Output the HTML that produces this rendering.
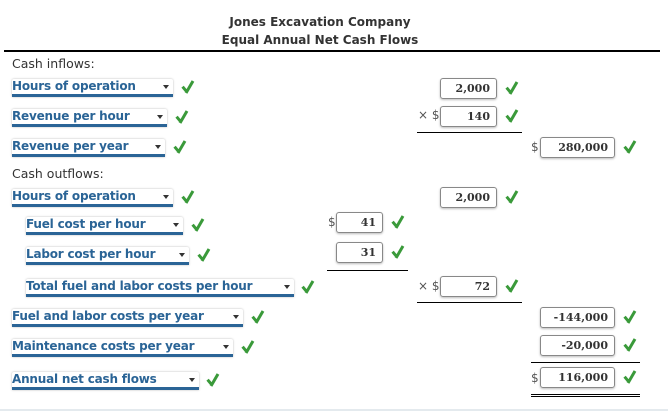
<!DOCTYPE html>
<html><head><style>
body{margin:0;width:668px;height:411px;background:#fff;position:relative;font-family:"DejaVu Sans","Liberation Sans",sans-serif;overflow:hidden}
.a{position:absolute}
.t{font-weight:bold;font-size:12px;color:#333;text-align:center;width:668px;left:-14px}
.dd{position:absolute;height:15px;border-bottom:3px solid #2a6496;color:#2a6496;font-weight:bold;font-size:12px;line-height:15px;box-shadow:0 0 2px #bbb;border-radius:2px 2px 0 0;letter-spacing:-0.2px}
.dd:after{content:"";position:absolute;right:4px;top:6px;border-left:3.5px solid transparent;border-right:3.5px solid transparent;border-top:4px solid #333}
.ck{position:absolute;width:12px;height:13px}
.ck:before{content:"";position:absolute;left:1px;top:6px;width:3px;height:6px;background:#3a9a3a;transform:rotate(-40deg)}
.ck:after{content:"";position:absolute;left:6px;top:0;width:3px;height:14px;background:#3a9a3a;transform:rotate(30deg)}
.bx{position:absolute;height:19px;border:1px solid #888;border-radius:3px;box-shadow:0 1px 2px #bbb;text-align:right;padding-right:6px;box-sizing:border-box;font-family:"DejaVu Serif",serif;font-weight:bold;font-size:11px;line-height:19px;color:#333}
.lb{position:absolute;font-size:12.5px;color:#333}
.hl{position:absolute;height:1px;background:#000}
.sym{position:absolute;font-size:12px;color:#555}
</style></head><body>
<div class="a t" style="top:15px">Jones Excavation Company</div>
<div class="a t" style="top:33px">Equal Annual Net Cash Flows</div>
<div class="hl" style="left:4px;top:50px;width:656px;height:2px"></div>
<div class="lb" style="left:12px;top:56px">Cash inflows:</div>
<div class="dd" style="left:12px;top:79px;width:161px">Hours of operation</div><div class="ck" style="left:182px;top:80px"></div>
<div class="dd" style="left:12px;top:109px;width:155px">Revenue per hour</div><div class="ck" style="left:176px;top:110px"></div>
<div class="dd" style="left:12px;top:139px;width:153px">Revenue per year</div><div class="ck" style="left:174px;top:140px"></div>
<div class="lb" style="left:12px;top:166px">Cash outflows:</div>
<div class="dd" style="left:12px;top:189px;width:161px">Hours of operation</div><div class="ck" style="left:182px;top:190px"></div>
<div class="dd" style="left:26px;top:217px;width:157px">Fuel cost per hour</div><div class="ck" style="left:192px;top:218px"></div>
<div class="dd" style="left:26px;top:247px;width:163px">Labor cost per hour</div><div class="ck" style="left:198px;top:248px"></div>
<div class="dd" style="left:26px;top:279px;width:268px">Total fuel and labor costs per hour</div><div class="ck" style="left:302px;top:280px"></div>
<div class="dd" style="left:12px;top:309px;width:231px">Fuel and labor costs per year</div><div class="ck" style="left:252px;top:310px"></div>
<div class="dd" style="left:12px;top:339px;width:221px">Maintenance costs per year</div><div class="ck" style="left:242px;top:340px"></div>
<div class="dd" style="left:12px;top:372px;width:187px">Annual net cash flows</div><div class="ck" style="left:207px;top:373px"></div>

<div class="bx" style="left:440px;top:78px;width:57px;height:21px">2,000</div><div class="ck" style="left:506px;top:81px"></div>
<div class="sym" style="left:418px;top:108px">× $</div>
<div class="bx" style="left:440px;top:106px;width:57px;height:21px">140</div><div class="ck" style="left:506px;top:109px"></div>
<div class="hl" style="left:417px;top:132px;width:105px"></div>
<div class="sym" style="left:531px;top:140px">$</div>
<div class="bx" style="left:540px;top:137px;width:75px;height:21px">280,000</div><div class="ck" style="left:624px;top:140px"></div>
<div class="bx" style="left:440px;top:187px;width:57px;height:21px">2,000</div><div class="ck" style="left:506px;top:190px"></div>
<div class="sym" style="left:328px;top:215px">$</div>
<div class="bx" style="left:336px;top:212px;width:47px;height:21px">41</div><div class="ck" style="left:392px;top:215px"></div>
<div class="bx" style="left:336px;top:242px;width:47px;height:21px">31</div><div class="ck" style="left:392px;top:245px"></div>
<div class="hl" style="left:327px;top:270px;width:81px"></div>
<div class="sym" style="left:418px;top:279px">× $</div>
<div class="bx" style="left:440px;top:276px;width:57px;height:21px">72</div><div class="ck" style="left:506px;top:279px"></div>
<div class="hl" style="left:417px;top:302px;width:105px"></div>
<div class="bx" style="left:540px;top:307px;width:75px;height:21px">-144,000</div><div class="ck" style="left:624px;top:310px"></div>
<div class="bx" style="left:540px;top:335px;width:75px;height:21px">-20,000</div><div class="ck" style="left:624px;top:338px"></div>
<div class="hl" style="left:531px;top:362px;width:109px"></div>
<div class="sym" style="left:531px;top:371px">$</div>
<div class="bx" style="left:540px;top:367px;width:75px;height:21px">116,000</div><div class="ck" style="left:624px;top:370px"></div>
<div class="hl" style="left:531px;top:394px;width:109px"></div>
<div class="hl" style="left:531px;top:396px;width:109px"></div>
<div class="hl" style="left:0;top:409px;width:668px;height:2px;background:#e4eaee"></div>
</body></html>
